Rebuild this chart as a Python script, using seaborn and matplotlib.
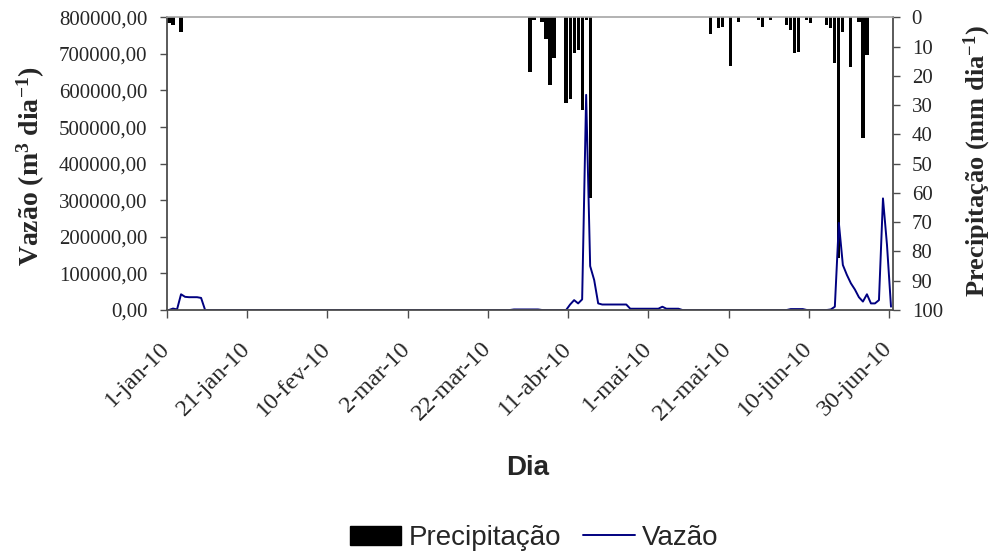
import numpy as np
import pandas as pd
import matplotlib
matplotlib.use("Agg")
import matplotlib.pyplot as plt
import matplotlib.transforms as mtransforms
from matplotlib.ticker import FuncFormatter, MultipleLocator
from matplotlib.patches import Patch
from matplotlib.lines import Line2D
import seaborn as sns

# ---------------- data ----------------
tick_days = [0, 20, 40, 60, 80, 100, 120, 140, 160, 180]
tick_labels = ["1-jan-10", "21-jan-10", "10-fev-10", "2-mar-10", "22-mar-10",
               "11-abr-10", "1-mai-10", "21-mai-10", "10-jun-10", "30-jun-10"]

# daily discharge (m3/day), 1-jan-10 .. 30-jun-10
vazao = [
    0, 4000, 1500, 43000, 36000, 35000, 35000, 35000, 33000, 0,
    0, 0, 0, 0, 0, 0, 0, 0, 0, 0,
    0, 0, 0, 0, 0, 0, 0, 0, 0, 0,
    0, 0, 0, 0, 0, 0, 0, 0, 0, 0,
    0, 0, 0, 0, 0, 0, 0, 0, 0, 0,
    0, 0, 0, 0, 0, 0, 0, 0, 0, 0,
    0, 0, 0, 0, 0, 0, 0, 0, 0, 0,
    0, 0, 0, 0, 0, 0, 0, 0, 0, 0,
    0, 0, 0, 0, 0, 0, 1500, 1500, 1500, 1500,
    1500, 1500, 1500, 0, 0, 0, 0, 0, 0, 0,
    15000, 27000, 18000, 29000, 588000, 120000, 82000, 18000, 15000, 15000,
    15000, 15000, 15000, 15000, 15000, 3500, 3500, 3500, 3500, 3500,
    3500, 3500, 3500, 9000, 3500, 3500, 3500, 3500, 0, 0,
    0, 0, 0, 0, 0, 0, 0, 0, 0, 0,
    0, 0, 0, 0, 0, 0, 0, 0, 0, 0,
    0, 0, 0, 0, 0, 2500, 2500, 2500, 2500, 0,
    0, 0, 0, 0, 0, 1500, 9000, 238000, 123000, 96000,
    73000, 56000, 35000, 23000, 43000, 18000, 18000, 27000, 305000, 178000,
    9000,
]

# daily rainfall (mm/day) on the days with rain
precip_days = [0, 1, 3,
               90, 91, 93, 94, 95, 96, 99, 100, 101, 102, 103, 104, 105,
               135, 137, 138, 140, 142, 147, 148, 150, 154, 155, 156, 157,
               159, 160, 164, 165, 166, 167, 168, 170, 172, 173, 174]
precip_mm = [2.0, 2.6, 5.1,
             18.8, 1.0, 1.5, 7.5, 23.1, 14.0, 29.2, 28.0, 12.3, 11.2, 31.7, 0.9, 61.8,
             5.7, 3.8, 3.2, 16.6, 1.5, 1.0, 3.2, 0.9, 2.6, 4.3, 12.3, 11.7,
             1.0, 2.0, 2.6, 3.8, 15.7, 82.4, 4.9, 16.9, 1.5, 41.3, 12.9]

n_days = len(vazao)
day = np.arange(n_days)
precip = np.zeros(n_days)
precip[precip_days] = precip_mm
df = pd.DataFrame({"pos": day + 0.5, "vazao": vazao, "precip": precip})

# ---------------- style ----------------
sns.set_style("ticks")
plt.rcParams["font.family"] = ["Liberation Serif", "DejaVu Serif"]
plt.rcParams["mathtext.fontset"] = "custom"
plt.rcParams["mathtext.rm"] = "Liberation Serif:bold"
plt.rcParams["mathtext.bf"] = "Liberation Serif:bold"
plt.rcParams["mathtext.it"] = "Liberation Serif:bold"

W, H = 992, 557
fig = plt.figure(figsize=(W / 100, H / 100), dpi=100)
ax_l, ax_r, ax_t, ax_b = 167, 893, 17.3, 310
ax = fig.add_axes([ax_l / W, 1 - ax_b / H, (ax_r - ax_l) / W, (ax_b - ax_t) / H])
ax2 = ax.twinx()

# bars (right axis, inverted)
sns.barplot(data=df, x="pos", y="precip", ax=ax2, native_scale=True,
            color="black", saturation=1, width=0.8, linewidth=0,
            errorbar=None)
# discharge line (left axis)
sns.lineplot(data=df, x="pos", y="vazao", ax=ax, color="#000080",
             linewidth=1.4)

ax.set_zorder(ax2.get_zorder() + 1)
ax.patch.set_visible(False)

ax.set_xlim(0, 181)
ax.set_ylim(0, 800000)
ax2.set_ylim(100, 0)

ax.yaxis.set_major_locator(MultipleLocator(100000))
ax.yaxis.set_major_formatter(FuncFormatter(lambda v, p: f"{v:.2f}".replace(".", ",")))
ax2.yaxis.set_major_locator(MultipleLocator(10))
ax2.yaxis.set_major_formatter(FuncFormatter(lambda v, p: f"{v:.0f}"))

ax.set_xticks(tick_days)
ax.set_xticklabels(tick_labels, rotation=45, ha="right", va="center",
                   rotation_mode="anchor", fontsize=17.5)
shift = mtransforms.ScaledTranslation(-4 / 100, 0, fig.dpi_scale_trans)
for lab in ax.get_xticklabels():
    lab.set_transform(lab.get_transform() + shift)

spine_dark = "#4d4d4d"
for s in ["left", "bottom"]:
    ax.spines[s].set_color(spine_dark)
    ax.spines[s].set_linewidth(1.3)
ax.spines["right"].set_visible(False)
ax.spines["top"].set_color("#a6a6a6")
ax.spines["top"].set_linewidth(1.2)
ax2.spines["left"].set_visible(False)
ax2.spines["bottom"].set_visible(False)
ax2.spines["top"].set_visible(False)
ax2.spines["right"].set_color(spine_dark)
ax2.spines["right"].set_linewidth(1.3)

ax.tick_params(axis="y", direction="out", length=5, width=1, color=spine_dark,
               labelsize=15, pad=9)
ax.tick_params(axis="x", direction="out", length=5.5, width=1, color=spine_dark,
               pad=20)
ax2.tick_params(axis="y", direction="out", length=5, width=1, color=spine_dark,
                labelsize=15, pad=8.5)

ax.set_xlabel("Dia", fontsize=20, fontweight="bold", family="Liberation Sans")
ax.xaxis.label.set_va("center")
ax.xaxis.set_label_coords((528 - ax_l) / (ax_r - ax_l), -(468 - ax_b) / (ax_b - ax_t))

ax.set_ylabel(r"Vazão (m$^{3}$ dia$^{-1}$)", fontsize=20, fontweight="bold")
ax.yaxis.label.set_va("center")
ax.yaxis.set_label_coords((31 - ax_l) / (ax_r - ax_l), 0.49)

ax2.set_ylabel(r"Precipitação (mm dia$^{-1}$)", fontsize=19, fontweight="bold",
               rotation=90)
ax2.yaxis.label.set_va("center")
ax2.yaxis.set_label_coords((977 - ax_l) / (ax_r - ax_l), 0.51)

handles = [Patch(facecolor="black", edgecolor="black"),
           Line2D([], [], color="#000080", linewidth=1.4)]
fig.legend(handles, ["Precipitação", "Vazão"], loc="center",
           bbox_to_anchor=(534 / W, 1 - 538 / H), ncol=2, frameon=False,
           prop={"family": "Liberation Sans", "size": 20},
           handlelength=1.85, handleheight=0.65, handletextpad=0.25,
           columnspacing=0.8)

fig.savefig("out.png", dpi=100)
